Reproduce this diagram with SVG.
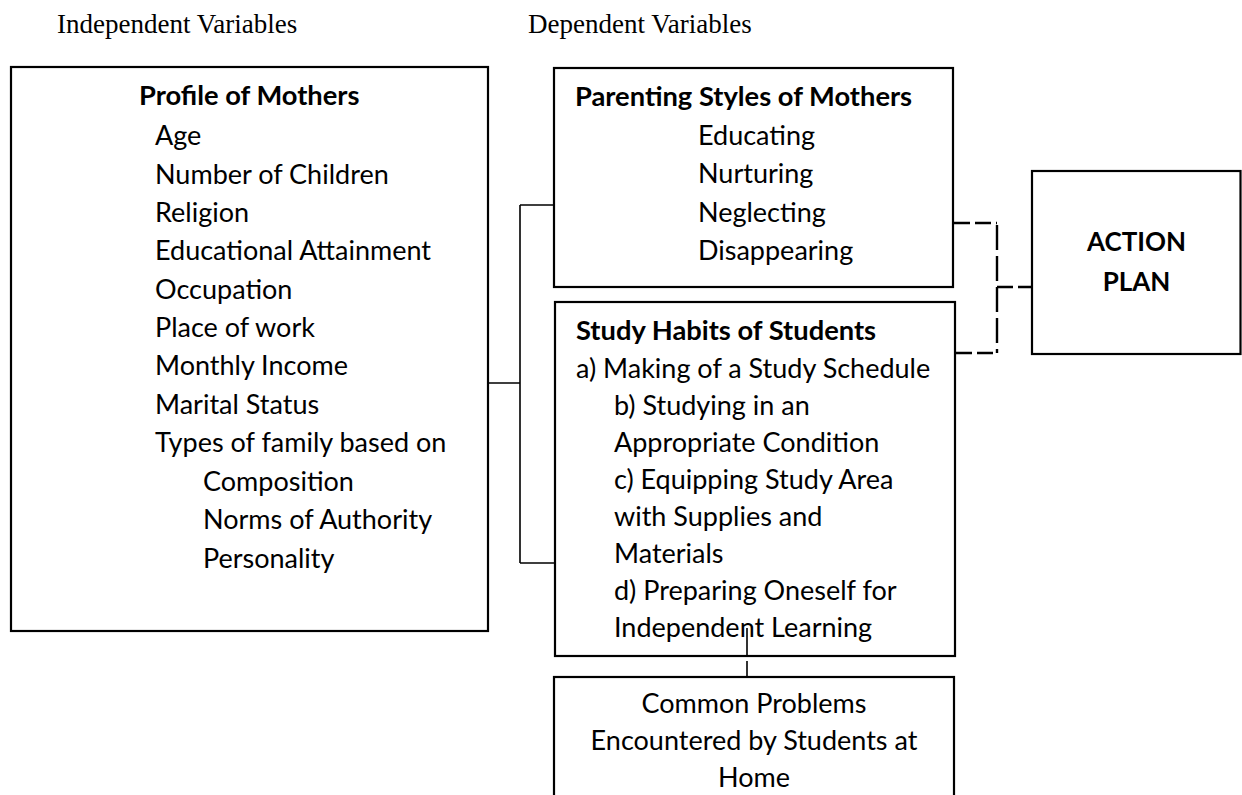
<svg xmlns="http://www.w3.org/2000/svg" width="1242" height="795" viewBox="0 0 1242 795">
<style>
.box{fill:#fff;stroke:#000;stroke-width:2.2}
.t{font-family:Lato,"Liberation Sans",sans-serif;font-size:27px;fill:#000}
.b{font-weight:bold;font-size:27.3px}
.h{font-family:"Liberation Serif","Times New Roman",serif;font-size:27px;fill:#000}
.c{text-anchor:middle}
.solid{fill:none;stroke:#000;stroke-width:1.6}
.dash{fill:none;stroke:#000;stroke-width:2.4}
</style>
<rect width="1242" height="795" fill="#fff"/>
<g id="headers">
<text class="h" x="57" y="33">Independent Variables</text>
<text class="h" x="528" y="33">Dependent Variables</text>
</g>
<g id="profile">
<rect class="box" x="11" y="67" width="477" height="564"/>
<text class="t b" x="139" y="105">Profile of Mothers</text>
<text class="t" x="155" y="145">Age</text>
<text class="t" x="155" y="183.5">Number of Children</text>
<text class="t" x="155" y="222">Religion</text>
<text class="t" x="155" y="260">Educational Attainment</text>
<text class="t" x="155" y="298.5">Occupation</text>
<text class="t" x="155" y="337">Place of work</text>
<text class="t" x="155" y="375">Monthly Income</text>
<text class="t" x="155" y="414">Marital Status</text>
<text class="t" x="155" y="452">Types of family based on</text>
<text class="t" x="203" y="490.5">Composition</text>
<text class="t" x="203" y="529">Norms of Authority</text>
<text class="t" x="203" y="567.5">Personality</text>
</g>
<g id="parenting">
<rect class="box" x="554" y="68" width="399" height="219"/>
<text class="t b" x="575" y="105.5">Parenting Styles of Mothers</text>
<text class="t" x="698" y="145">Educating</text>
<text class="t" x="698" y="183.3">Nurturing</text>
<text class="t" x="698" y="221.7">Neglecting</text>
<text class="t" x="698" y="260">Disappearing</text>
</g>
<g id="study">
<rect class="box" x="555" y="302" width="400" height="354"/>
<text class="t b" x="576" y="340">Study Habits of Students</text>
<text class="t" x="576" y="377.5">a) Making of a Study Schedule</text>
<text class="t" x="614" y="414.5">b) Studying in an</text>
<text class="t" x="614" y="451.5">Appropriate Condition</text>
<text class="t" x="614" y="488.5">c) Equipping Study Area</text>
<text class="t" x="614" y="525.5">with Supplies and</text>
<text class="t" x="614" y="562.5">Materials</text>
<text class="t" x="614" y="599.7">d) Preparing Oneself for</text>
<text class="t" x="614" y="636.8">Independent Learning</text>
</g>
<g id="action">
<rect class="box" x="1032" y="171" width="208.5" height="183"/>
<text class="t b c" x="1136.5" y="250.7" style="font-size:26px">ACTION</text>
<text class="t b c" x="1136.5" y="291" style="font-size:26px">PLAN</text>
</g>
<g id="problems">
<rect class="box" x="554" y="677" width="400" height="140"/>
<text class="t c" x="754" y="713">Common Problems</text>
<text class="t c" x="754" y="750">Encountered by Students at</text>
<text class="t c" x="754" y="787">Home</text>
</g>
<g id="connectors">
<path class="solid" d="M489 383 H520 M520 205 V563 M520 205 H553 M520 563 H554"/>
<path class="dash" stroke-dasharray="16 5" d="M954 223 H997 M956 353 H997 M997 287 H1031"/>
<path class="dash" stroke-dasharray="25 6" d="M997 225 V353"/>
<path class="solid" stroke-dasharray="29 4" d="M747 628 V676"/>
</g>
</svg>
